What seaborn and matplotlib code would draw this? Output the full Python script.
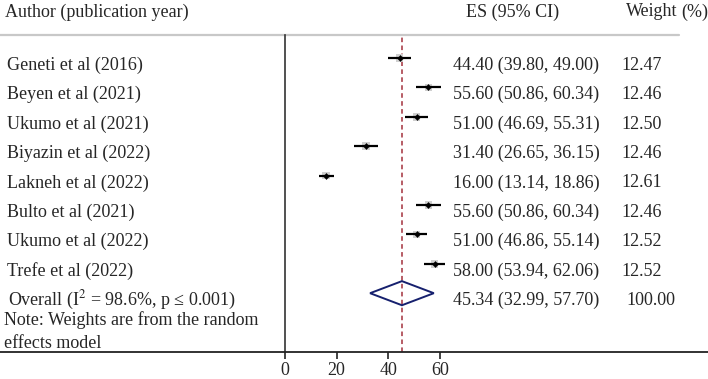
import numpy as np
import pandas as pd
import matplotlib
matplotlib.use("Agg")
import matplotlib.pyplot as plt
import matplotlib.transforms as mtransforms
from matplotlib.patches import Polygon
import seaborn as sns

# Data
studies = ["Geneti et al (2016)", "Beyen et al (2021)", "Ukumo et al (2021)",
           "Biyazin et al (2022)", "Lakneh et al (2022)", "Bulto et al (2021)",
           "Ukumo et al (2022)", "Trefe et al (2022)"]
es = [44.40, 55.60, 51.00, 31.40, 16.00, 55.60, 51.00, 58.00]
lo = [39.80, 50.86, 46.69, 26.65, 13.14, 50.86, 46.86, 53.94]
hi = [49.00, 60.34, 55.31, 36.15, 18.86, 60.34, 55.14, 62.06]
weights = ["12.47", "12.46", "12.50", "12.46", "12.61", "12.46", "12.52", "12.52"]

overall_label = "Overall (I$^{2}$ = 98.6%, p \u2264 0.001)"
overall_es, overall_lo, overall_hi = 45.34, 32.99, 57.70
overall_weight = "100.00"
xticks = [0, 20, 40, 60]

df = pd.DataFrame({"study": studies, "es": es, "lo": lo, "hi": hi, "weight": weights})
df["row"] = np.arange(len(df))
overall_row = len(df)

sns.set_style("white")
plt.rcParams["font.family"] = ["Liberation Serif", "DejaVu Serif"]
plt.rcParams["mathtext.fontset"] = "stix"

fig = plt.figure(figsize=(7.08, 3.79), dpi=100)
ax = fig.add_axes([0, 27 / 379, 1, (352 - 35) / 379])

# CI lines and study points
ax.hlines(df["row"], df["lo"], df["hi"], color="black", lw=1.6, zorder=3)
sns.scatterplot(data=df, x="es", y="row", marker="s", s=30, color="#d0d0d0",
                edgecolor="none", ax=ax, zorder=2, legend=False)
sns.scatterplot(data=df, x="es", y="row", marker="D", s=10, color="black",
                edgecolor="black", ax=ax, zorder=4, legend=False)

# overall diamond
dh = 0.41
ax.add_patch(Polygon([[overall_lo, overall_row], [overall_es, overall_row - dh],
                      [overall_hi, overall_row], [overall_es, overall_row + dh]],
                     closed=True, fill=False, edgecolor="#16206e", lw=1.4, zorder=4))
ax.axvline(overall_es, color="#a3303c", lw=1.1, ls=(0, (3, 2.2)), zorder=1)

ax.set_xlim(-285 / 2.579, (708 - 285) / 2.579)
ax.set_ylim(10.0, -0.78)

# frame
for side in ["top", "right"]:
    ax.spines[side].set_visible(False)
ax.spines["left"].set_position(("data", 0))
ax.spines["left"].set_color("#333333")
ax.spines["left"].set_linewidth(1.2)
ax.spines["bottom"].set_color("#222222")
ax.spines["bottom"].set_linewidth(1.3)
ax.axhline(-0.78, xmin=0, xmax=679 / 708, color="#c8c8c8", lw=1.6, clip_on=False)

ax.set_xticks(xticks)
ax.set_xticklabels([str(t) for t in xticks])
ax.set_yticks([])
ax.tick_params(axis="x", direction="out", length=5, width=1.2, color="#222222",
               labelsize=13, pad=2, bottom=True)
ax.set_xlabel("")
ax.set_ylabel("")

# text columns
tr = mtransforms.blended_transform_factory(ax.transAxes, ax.transData)
fs = 13
off = 0.25
for _, r in df.iterrows():
    ax.text(7 / 708, r["row"] + off, r["study"], transform=tr, fontsize=fs, va="center")
    ax.text(453 / 708, r["row"] + off, f"{r['es']:.2f} ({r['lo']:.2f}, {r['hi']:.2f})",
            transform=tr, fontsize=fs, va="center")
    ax.text(621 / 708, r["row"] + off, r["weight"], transform=tr, fontsize=fs, va="center")

ax.text(8 / 708, overall_row + off, overall_label, transform=tr, fontsize=fs, va="center")
ax.text(453 / 708, overall_row + off,
        f"{overall_es:.2f} ({overall_lo:.2f}, {overall_hi:.2f})",
        transform=tr, fontsize=fs, va="center")
ax.text(626 / 708, overall_row + off, overall_weight, transform=tr, fontsize=fs, va="center")
ax.text(4 / 708, overall_row + 0.92, "Note: Weights are from the random",
        transform=tr, fontsize=fs, va="center")
ax.text(4 / 708, overall_row + 1.7, "effects model", transform=tr, fontsize=fs, va="center")

# header
fig.text(5 / 708, 1 - 12 / 379, "Author (publication year)", fontsize=fs, va="center")
fig.text(466 / 708, 1 - 12 / 379, "ES (95% CI)", fontsize=fs, va="center")
fig.text(626 / 708, 1 - 12 / 379, "Weight", fontsize=fs, va="center")
fig.text(681 / 708, 1 - 12 / 379, "(%)", fontsize=fs, va="center")

fig.savefig("out.png", dpi=100)
